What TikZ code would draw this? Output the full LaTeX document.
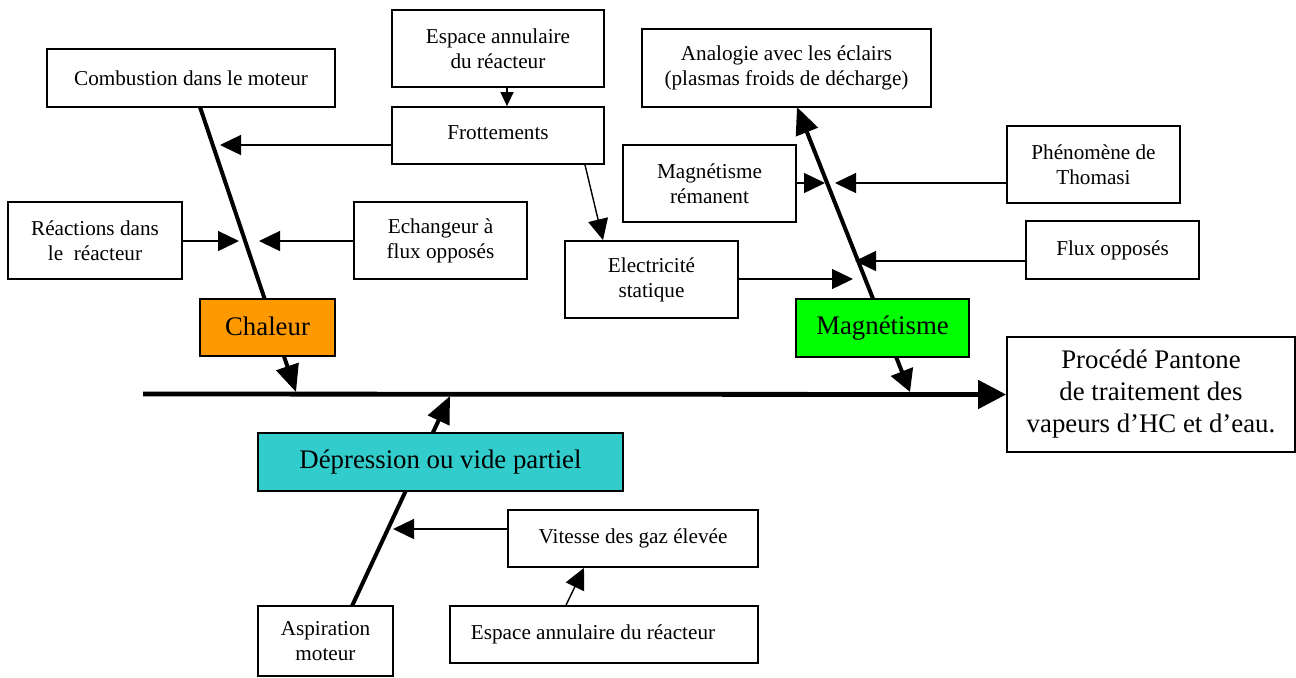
\documentclass[tikz,border=0pt]{standalone}
\usepackage{fontspec}
\setmainfont{Liberation Serif}
\usetikzlibrary{arrows.meta}
\definecolor{chalcol}{HTML}{FF9900}
\definecolor{magncol}{HTML}{00FF00}
\definecolor{depcol}{HTML}{33CCCC}
\begin{document}
\begin{tikzpicture}[x=0.5pt,y=-0.5pt,
  box/.style={draw, line width=0.9pt, fill=white, inner sep=0pt, align=center,
              font=\fontsize{10.6}{12.4}\selectfont},
  bigbox/.style={box, font=\fontsize{13.4}{16}\selectfont},
  thinarrow/.style={line width=0.7pt, -{Triangle[length=10.5pt,width=10pt]}},
  smallarrow/.style={line width=0.7pt, -{Triangle[length=7pt,width=6.5pt]}},
  bone/.style={line width=2pt, -{Triangle[length=13.5pt,width=11.5pt]}},
  dbone/.style={line width=2pt, {Triangle[length=11pt,width=11.5pt]}-{Triangle[length=13.5pt,width=11.5pt]}},
  spine/.style={line width=2.4pt, -{Triangle[length=14pt,width=14pt]}}
]
\useasboundingbox (0,0) rectangle (1296,677);

% coordinates for free ends
\coordinate (sstart) at (143,394);
\coordinate (ctop) at (200,107);
\coordinate (cspine) at (296,392);
\coordinate (dbot) at (352,606);
\coordinate (dspine) at (450,396);
\coordinate (mtop) at (797,107);
\coordinate (mspine) at (910,392);

% result box
\node[bigbox, minimum width=144pt, minimum height=57.5pt] (proc) at (1151,394.5)
  {Procédé Pantone\\de traitement des\\vapeurs d’HC et d’eau.};

% spine and bones
\draw[spine] (sstart) -- (proc.west);
\draw[bone] (ctop) -- (cspine);
\draw[bone] (dbot) -- (dspine);
\draw[dbone] (mspine) -- (mtop);

% boxes
\node[box, minimum width=144pt, minimum height=29pt] (comb) at (191,78) {Combustion dans le moteur};
\node[box, minimum width=106pt, minimum height=38.5pt] (esp1) at (498,48.5) {Espace annulaire\\du réacteur};
\node[box, minimum width=106pt, minimum height=28.5pt] (frott) at (498,135.5) {\raisebox{2.75pt}{Frottements}};
\node[box, minimum width=87pt, minimum height=38.5pt] (reac) at (95,240.5) {Réactions dans\\le~~réacteur};
\node[box, minimum width=86.5pt, minimum height=38.5pt] (ech) at (440.5,240.5) {Echangeur à\\flux opposés};
\node[box, minimum width=144.5pt, minimum height=39pt] (anal) at (786.5,68) {Analogie avec les éclairs\\(plasmas froids de décharge)};
\node[box, minimum width=86.5pt, minimum height=38.5pt] (rem) at (709.5,183.5) {Magnétisme\\rémanent};
\node[box, minimum width=86.5pt, minimum height=38.5pt] (thom) at (1093.5,164.5) {Phénomène de\\Thomasi};
\node[box, minimum width=86.5pt, minimum height=29pt] (flux) at (1112.5,250) {\raisebox{2pt}{Flux opposés}};
\node[box, minimum width=86.5pt, minimum height=38.5pt] (elec) at (651.5,279.5) {Electricité\\statique};
\node[bigbox, fill=chalcol, minimum width=67.5pt, minimum height=28.5pt] (chal) at (267.5,327.5) {\raisebox{1pt}{Chaleur}};
\node[bigbox, fill=magncol, minimum width=86.5pt, minimum height=29pt] (magn) at (882.5,328) {\raisebox{1pt}{Magnétisme}};
\node[bigbox, fill=depcol, minimum width=182.5pt, minimum height=29pt] (dep) at (440.5,462) {\raisebox{1pt}{Dépression ou vide partiel}};
\node[box, minimum width=125pt, minimum height=28.5pt] (vit) at (633,538.5) {\raisebox{1.75pt}{Vitesse des gaz élevée}};
\node[box, minimum width=154pt, minimum height=28.5pt] (esp2) at (604,634.5) {\raisebox{2.25pt}{Espace annulaire du réacteur}\hspace*{11pt}};
\node[box, minimum width=67.5pt, minimum height=35pt] (asp) at (325.5,641) {Aspiration\\moteur};

% tips of the side arrows
\coordinate (tfrott) at (220,145);
\coordinate (treac) at (239,241);
\coordinate (tech) at (259,241);
\coordinate (tvit) at (393,529);
\coordinate (trem) at (825,183);
\coordinate (tthom) at (835,183);
\coordinate (tflux) at (855,261);
\coordinate (telec) at (853,279);
\coordinate (xe) at (507,0);
\coordinate (xf1) at (585,0);
\coordinate (xf2) at (603,0);
\coordinate (xa1) at (566,0);
\coordinate (xa2) at (584,0);

\draw[thinarrow] (frott.west |- tfrott) -- (tfrott);
\draw[thinarrow] (reac.east |- treac) -- (treac);
\draw[thinarrow] (ech.west |- tech) -- (tech);
\draw[thinarrow] (vit.west |- tvit) -- (tvit);
\draw[thinarrow] (rem.east |- trem) -- (trem);
\draw[thinarrow] (thom.west |- tthom) -- (tthom);
\draw[thinarrow] (flux.west |- tflux) -- (tflux);
\draw[thinarrow] (elec.east |- telec) -- (telec);
\draw[smallarrow] (esp1.south -| xe) -- (frott.north -| xe);
\draw[thinarrow] (frott.south -| xf1) -- (elec.north -| xf2);
\draw[thinarrow] (esp2.north -| xa1) -- (vit.south -| xa2);
\end{tikzpicture}
\end{document}
